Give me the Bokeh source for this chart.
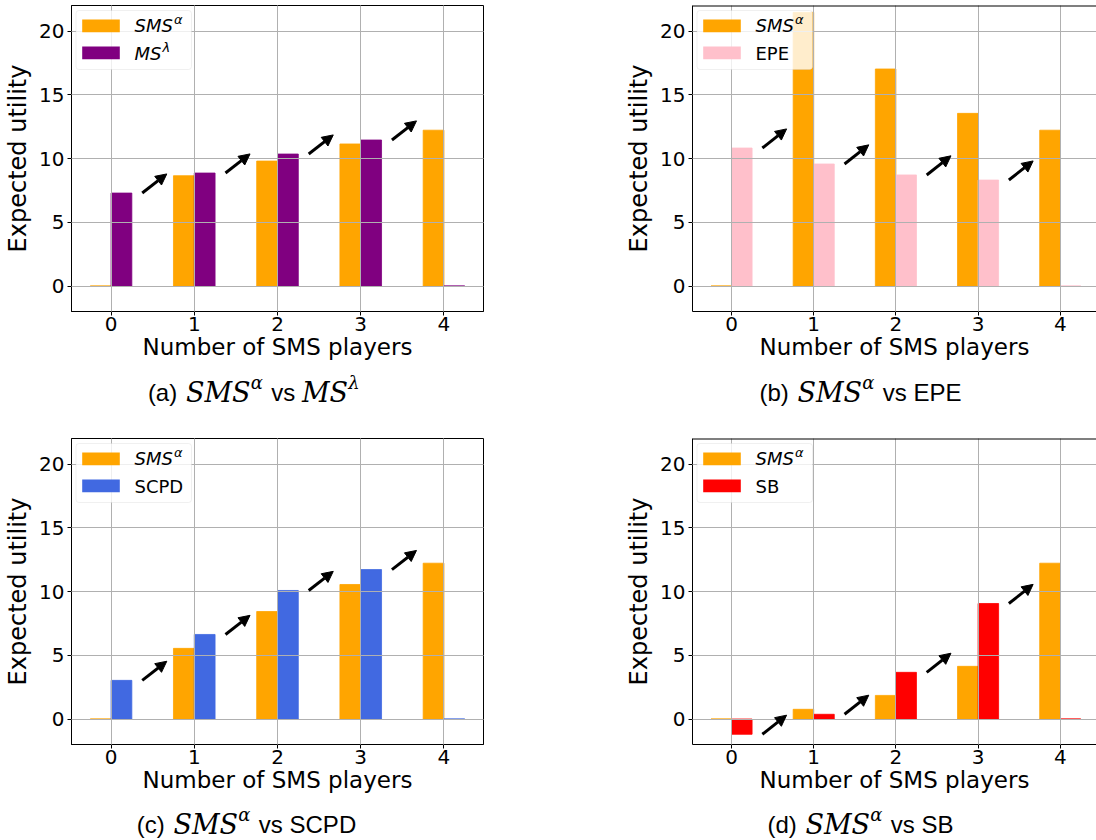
from bokeh.plotting import figure
from bokeh.models import (Range1d, FixedTicker, Arrow, NormalHead, ColumnDataSource,
                          BoxAnnotation, Label, Span)
from bokeh.layouts import column, row
from bokeh.embed import file_html
from bokeh.resources import INLINE

# ---------------- data ----------------
players = [0, 1, 2, 3, 4]
tick_labels = ["0", "1", "2", "3", "4"]
y_ticks = [0, 5, 10, 15, 20]

sms_a = [0.0, 8.65, 9.80, 11.14, 12.22]
ms_a = [7.29, 8.86, 10.35, 11.45, 0.0]

sms_b = [0.0, 21.46, 17.02, 13.54, 12.22]
epe_b = [10.82, 9.57, 8.71, 8.31, 0.0]

sms_c = [0.0, 5.54, 8.43, 10.55, 12.22]
scpd_c = [3.03, 6.63, 10.08, 11.72, 0.0]

sms_d = [0.0, 0.76, 1.85, 4.13, 12.22]
sb_d = [-1.20, 0.37, 3.66, 9.06, 0.0]

x_label = "Number of SMS players"
y_label = "Expected utility"

# ---------------- styling ----------------
ORANGE = "#FFA500"
TICK_FONT = "DejaVu Sans"
SANS_CAP = "Liberation Sans"
MATH_FONT = "DejaVu Serif"
BAR_W = 0.25

SANS_W = {'(': .333, ')': .333, 'a': .556, 'b': .556, 'c': .5, 'd': .556, ' ': .278,
          'v': .5, 's': .5, 'E': .667, 'P': .667, 'S': .667, 'C': .722, 'D': .722, 'B': .667}
SERIF_I_W = {'S': .685, 'M': .995, 'α': .66, 'λ': .60}
DJV_W = {'S': .635, 'M': .863, 'E': .632, 'P': .603, 'C': .698, 'D': .770, 'B': .686,
         'α': .659, 'λ': .592}


def tw(s, table, size):
    return sum(table.get(ch, .55) for ch in s) * size


def place_parts(p, x0, y, parts, baseline):
    """parts: (text, font, size, style, dy, table, extra)"""
    x = x0
    for text, font, size, style, dy, table, extra in parts:
        if text.strip():
            p.add_layout(Label(x=x, y=y + dy, x_units="screen", y_units="screen", text=text,
                               text_font=font, text_font_size=f"{size}px",
                               text_font_style=style, text_baseline=baseline,
                               text_align="left", text_color="black"))
        x += tw(text, table, size) + extra


def parts_width(parts):
    return sum(tw(t, tb, s) + e for t, f, s, st, dy, tb, e in parts)


def make_panel(sms, other, ocolor, oname, omath, width, height, left, top, bottom, right,
               xend, full_outline):
    fh = height - top - bottom
    p = figure(width=width, height=height, x_range=Range1d(-0.475, xend),
               y_range=Range1d(-2, 22), output_backend="svg", toolbar_location=None,
               min_border_left=left, min_border_right=right, min_border_top=top,
               min_border_bottom=bottom, background_fill_color="white",
               border_fill_color="white")
    if full_outline:
        p.outline_line_color = "black"
        p.outline_line_width = 1
    else:
        # the right edge of this panel lies beyond the picture: only the top border shows
        p.outline_line_color = None
        p.add_layout(Span(location=22, dimension="width", line_color="black", line_width=2))

    src = ColumnDataSource(dict(
        x_s=[x - BAR_W / 2 for x in players], x_o=[x + BAR_W / 2 for x in players],
        sms=sms, other=other))
    p.vbar(x="x_s", top="sms", bottom=0, width=BAR_W, source=src, fill_color=ORANGE,
           line_color=ORANGE, line_width=0.8)
    p.vbar(x="x_o", top="other", bottom=0, width=BAR_W, source=src, fill_color=ocolor,
           line_color=ocolor, line_width=0.8)

    # arrows: start at the other strategy's value at k SMS players
    asrc = ColumnDataSource(dict(
        xs=[x + 0.375 for x in players[:-1]], ys=other[:-1],
        xe=[x + 0.67 for x in players[:-1]], ye=[v + 1.5 for v in other[:-1]]))
    p.add_layout(Arrow(x_start="xs", y_start="ys", x_end="xe", y_end="ye", source=asrc,
                       line_width=3, line_color="black",
                       end=NormalHead(size=11, fill_color="black", line_color="black",
                                      line_width=1)))

    # axes
    p.xaxis.ticker = FixedTicker(ticks=players)
    p.xaxis.major_label_overrides = {x: l for x, l in zip(players, tick_labels)}
    p.yaxis.ticker = FixedTicker(ticks=y_ticks)
    for ax in (p.xaxis, p.yaxis):
        ax.major_label_text_font = TICK_FONT
        ax.major_label_text_font_size = "20px"
        ax.major_label_text_color = "black"
        ax.axis_label_text_font = TICK_FONT
        ax.axis_label_text_font_style = "normal"
        ax.axis_label_text_color = "black"
        ax.axis_line_color = "black"
        ax.major_tick_line_color = "black"
        ax.major_tick_in = 0
        ax.major_tick_out = 4
        ax.minor_tick_line_color = None
        ax.major_label_standoff = 3
    p.xaxis.axis_label = x_label
    p.yaxis.axis_label = y_label
    p.xaxis.axis_label_text_font_size = "23px"
    p.yaxis.axis_label_text_font_size = "24px"
    p.xaxis.major_label_standoff = 1
    p.xaxis.axis_label_standoff = 0
    p.yaxis.axis_label_standoff = 4

    p.grid.grid_line_color = "#b0b0b0"
    p.grid.grid_line_width = 1
    p.grid.level = "guide"

    # legend (manual, to allow italic + superscript)
    def sy(off):
        return fh - off
    p.add_layout(BoxAnnotation(left=4.5, right=120, top=sy(5), bottom=sy(64),
                               left_units="screen", right_units="screen",
                               top_units="screen", bottom_units="screen",
                               fill_color="white", fill_alpha=0.8, line_color="#cccccc",
                               line_width=1, border_radius=3))
    for off, col in ((14, ORANGE), (41, ocolor)):
        p.add_layout(BoxAnnotation(left=10.7, right=48.3, top=sy(off), bottom=sy(off + 12.7),
                                   left_units="screen", right_units="screen",
                                   top_units="screen", bottom_units="screen",
                                   fill_color=col, fill_alpha=1, line_color=None))
    leg_rows = [("SMS", "α", 20.3), (oname, omath, 47.5)]
    for name, sup, off in leg_rows:
        if sup:
            parts = [(name, TICK_FONT, 18, "italic", 0, DJV_W, 1),
                     (sup, TICK_FONT, 13, "italic", 6, DJV_W, 0)]
        else:
            parts = [(name, TICK_FONT, 18, "normal", 0, DJV_W, 0)]
        place_parts(p, 63, sy(off), parts, "middle")
    return p


def caption(tag, oname, omath, width, height, center_x, base_from_top):
    c = figure(width=width, height=height, x_range=Range1d(0, width),
               y_range=Range1d(0, height), output_backend="svg", toolbar_location=None,
               min_border=0, x_axis_type=None, y_axis_type=None,
               background_fill_color="white", border_fill_color="white")
    c.outline_line_color = None
    c.grid.visible = False
    SN, MS_, SS_ = 24, 27, 18
    parts = [(f"({tag})", SANS_CAP, SN, "normal", 0, SANS_W, 0),
             (" ", SANS_CAP, SN, "normal", 0, SANS_W, 2),
             ("SMS", MATH_FONT, MS_, "italic", 0, SERIF_I_W, 1),
             ("α", MATH_FONT, SS_, "italic", 10, SERIF_I_W, 2),
             (" ", SANS_CAP, SN, "normal", 0, SANS_W, 0),
             ("vs", SANS_CAP, SN, "normal", 0, SANS_W, 0),
             (" ", SANS_CAP, SN, "normal", 0, SANS_W, 0)]
    if omath:
        parts += [(oname, MATH_FONT, MS_, "italic", 0, SERIF_I_W, 1),
                  (omath, MATH_FONT, SS_, "italic", 10, SERIF_I_W, 0)]
    else:
        parts += [(oname, SANS_CAP, SN, "normal", 0, SANS_W, 0)]
    w = parts_width(parts)
    place_parts(c, center_x - w / 2, height - base_from_top, parts, "alphabetic")
    return c


W_A, W_B = 622, 474
pa = make_panel(sms_a, ms_a, "#800080", "MS", "λ", W_A, 366, 71, 5, 55, 139, 4.475, True)
pb = make_panel(sms_b, epe_b, "#FFC0CB", "EPE", "", W_B, 366, 65, 5, 55, 0, 4.441, False)
pc = make_panel(sms_c, scpd_c, "#4169E1", "SCPD", "", W_A, 369, 71, 8, 55, 139, 4.475, True)
pd = make_panel(sms_d, sb_d, "#FF0000", "SB", "", W_B, 369, 65, 8, 55, 0, 4.441, False)

ca = caption("a", "MS", "λ", W_A, 64, 253, 26)
cb = caption("b", "EPE", "", W_B, 64, 238, 26)
cc = caption("c", "SCPD", "", W_A, 41, 246, 25)
cd = caption("d", "SB", "", W_B, 41, 238, 25)

layout = column(row(pa, pb, spacing=0), row(ca, cb, spacing=0),
                row(pc, pd, spacing=0), row(cc, cd, spacing=0), spacing=0)

open("out.html", "w").write(file_html(layout, INLINE))
